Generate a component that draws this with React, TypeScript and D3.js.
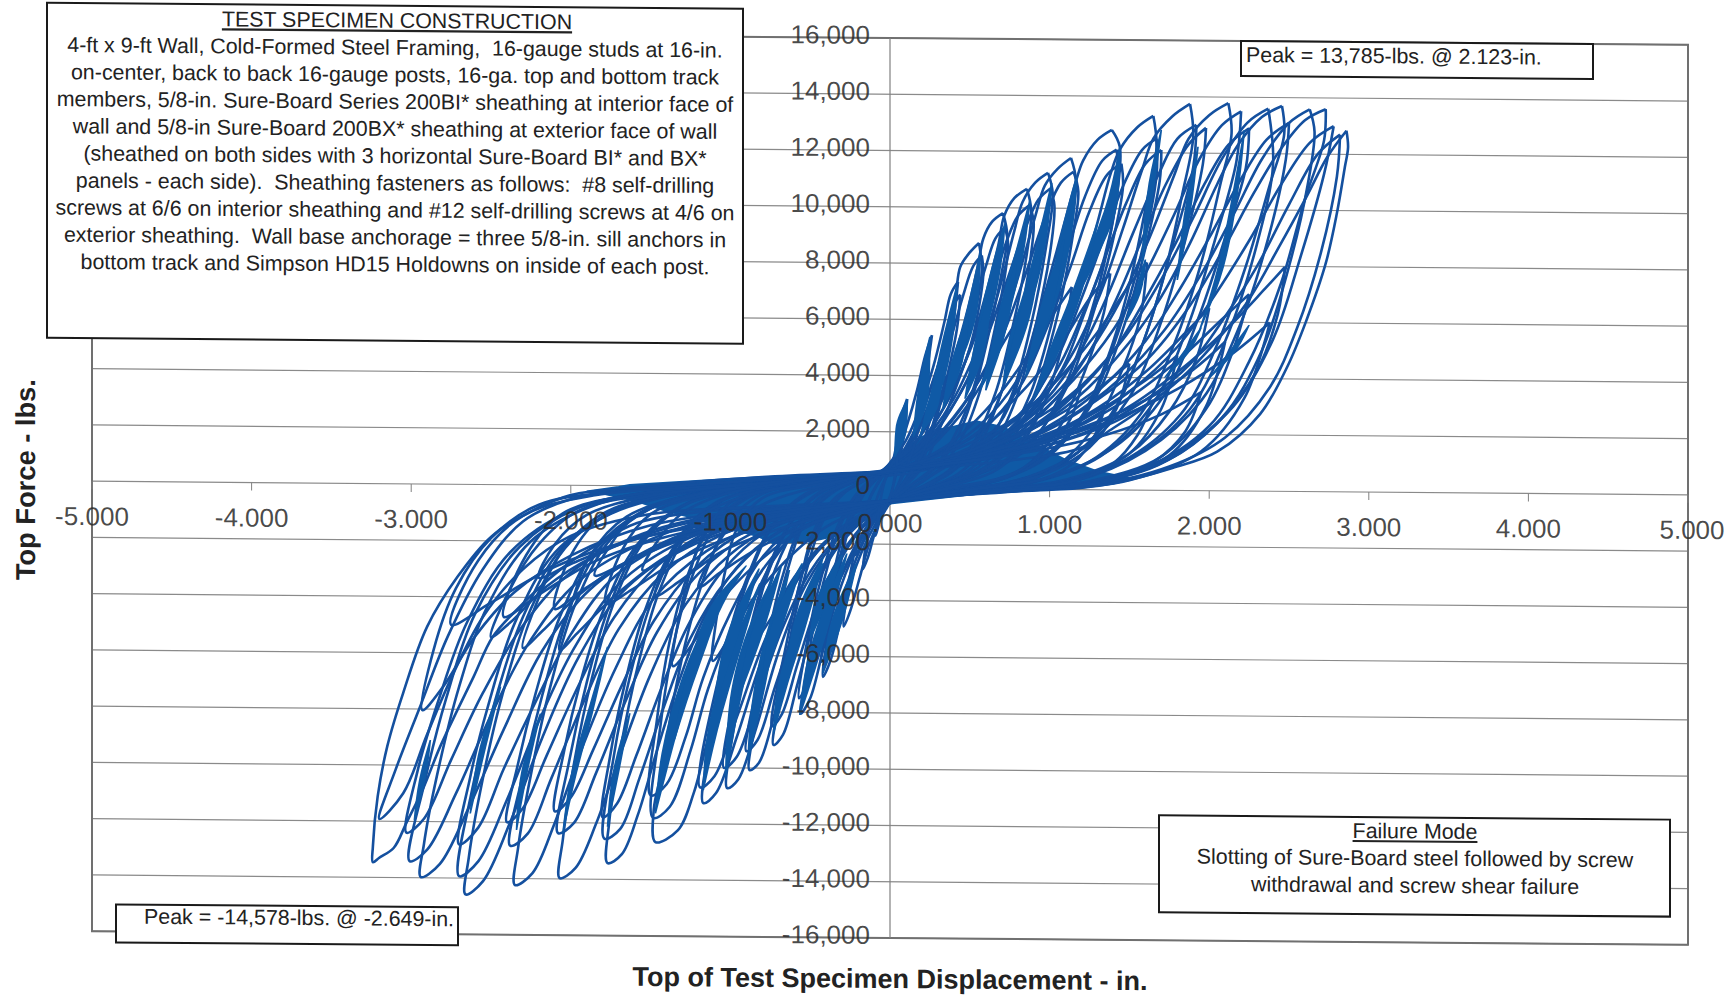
import { useEffect, useRef } from 'react'
import * as d3 from 'd3'

type Pt = [number, number] // displacement (in), force (lbs)

const xTicks = [-5, -4, -3, -2, -1, 0, 1, 2, 3, 4, 5]
const yTicks = [16000, 14000, 12000, 10000, 8000, 6000, 4000, 2000, 0, -2000, -4000, -6000, -8000, -10000, -12000, -14000, -16000]

const specimenTitle = 'TEST SPECIMEN CONSTRUCTION'
const specimenLines = [
  '4-ft x 9-ft Wall, Cold-Formed Steel Framing,  16-gauge studs at 16-in.',
  'on-center, back to back 16-gauge posts, 16-ga. top and bottom track',
  'members, 5/8-in. Sure-Board Series 200BI* sheathing at interior face of',
  'wall and 5/8-in Sure-Board 200BX* sheathing at exterior face of wall',
  '(sheathed on both sides with 3 horizontal Sure-Board BI* and BX*',
  'panels - each side).  Sheathing fasteners as follows:  #8 self-drilling',
  'screws at 6/6 on interior sheathing and #12 self-drilling screws at 4/6 on',
  'exterior sheathing.  Wall base anchorage = three 5/8-in. sill anchors in',
  'bottom track and Simpson HD15 Holdowns on inside of each post.',
]
const failureLines = ['Slotting of Sure-Board steel followed by screw', 'withdrawal and screw shear failure']

// primary and repeat cycles, one list per displacement level
const level01: Pt[][] = [
  [[.107,3170],[.08,2700],[.05,1800],[.02,1000],[0,650],[-.05,100],[-.1,-700],[-.14,-1700],[-.17,-2900],[-.14,-2500],[-.1,-1700],[-.05,-900],[0,-300],[.03,300],[.06,1000],[.09,2000],[.107,3170]],
]
const level02: Pt[][] = [
  [[.263,5450],[.22,4700],[.17,3500],[.11,2300],[.05,1300],[0,850],[-.06,300],[-.12,-300],[-.18,-1200],[-.23,-2500],[-.27,-3800],[-.29,-4940],[-.25,-4400],[-.19,-3200],[-.13,-2000],[-.06,-1100],[0,-500],[.05,100],[.1,900],[.16,2200],[.22,3800],[.263,5450]],
]
const level03: Pt[][] = [
  [[.426,7350],[.38,6900],[.34,5900],[.27,4300],[.19,2900],[.1,1700],[0,900],[-.08,350],[-.16,-200],[-.25,-1300],[-.32,-3000],[-.38,-4900],[-.42,-6735],[-.37,-6100],[-.3,-4500],[-.22,-2900],[-.13,-1700],[-.05,-900],[0,-500],[.07,100],[.15,800],[.24,2200],[.33,4300],[.4,6100],[.426,7350]],
  [[.44,6900],[.39,6400],[.34,5100],[.27,3800],[.19,2500],[.1,1400],[0,800],[-.1,250],[-.18,-300],[-.27,-1500],[-.34,-3200],[-.4,-5000],[-.43,-6200],[-.38,-5700],[-.3,-4000],[-.21,-2500],[-.12,-1400],[0,-450],[.08,100],[.17,700],[.26,1900],[.35,3800],[.42,5700],[.44,6900]],
]
const level04: Pt[][] = [
  [[.558,8740],[.5,8400],[.44,7880],[.41,6810],[.33,4920],[.25,3500],[.17,2180],[.06,1100],[0,850],[-.1,350],[-.2,-200],[-.3,-1200],[-.4,-3000],[-.48,-5000],[-.53,-6800],[-.56,-8050],[-.5,-7500],[-.42,-5800],[-.33,-3900],[-.23,-2400],[-.12,-1300],[0,-500],[.1,200],[.2,900],[.29,2680],[.39,3860],[.48,5280],[.545,6600],[.575,7770],[.558,8740]],
  [[.575,8300],[.52,7900],[.46,6900],[.38,5300],[.29,3700],[.19,2300],[.08,1250],[0,800],[-.12,300],[-.22,-300],[-.33,-1400],[-.43,-3200],[-.51,-5200],[-.57,-7500],[-.52,-7000],[-.43,-5300],[-.33,-3500],[-.22,-2100],[-.1,-1100],[0,-450],[.1,100],[.21,800],[.31,2100],[.42,3700],[.51,5200],[.57,6900],[.585,7700],[.575,8300]],
]
const level05: Pt[][] = [
  [[.708,9810],[.64,9500],[.585,8900],[.55,7900],[.47,6000],[.37,4100],[.25,2500],[.12,1300],[0,800],[-.13,350],[-.28,-150],[-.42,-1200],[-.53,-3100],[-.62,-5200],[-.69,-7500],[-.73,-9170],[-.67,-8800],[-.58,-7000],[-.47,-4700],[-.34,-2900],[-.2,-1600],[0,-500],[.13,100],[.28,700],[.42,1800],[.53,3500],[.63,5800],[.7,7700],[.735,9000],[.708,9810]],
  [[.72,9300],[.66,8900],[.6,7900],[.51,6200],[.4,4300],[.28,2700],[.13,1400],[0,750],[-.15,300],[-.3,-250],[-.45,-1400],[-.56,-3300],[-.65,-5600],[-.74,-8500],[-.68,-8100],[-.58,-6300],[-.46,-4200],[-.33,-2600],[-.18,-1400],[0,-450],[.15,50],[.3,650],[.44,1700],[.56,3400],[.65,5500],[.72,7600],[.74,8700],[.72,9300]],
]
const level06: Pt[][] = [
  [[.858,10680],[.78,10350],[.715,9700],[.68,8700],[.59,6700],[.47,4500],[.33,2800],[.16,1400],[0,750],[-.18,300],[-.35,-150],[-.52,-1100],[-.65,-3100],[-.75,-5500],[-.83,-8000],[-.88,-10070],[-.82,-9800],[-.72,-8000],[-.6,-5500],[-.45,-3300],[-.27,-1700],[0,-500],[.18,0],[.36,600],[.52,1600],[.66,3400],[.77,5800],[.85,8100],[.885,9900],[.858,10680]],
  [[.875,10100],[.8,9700],[.73,8800],[.63,7000],[.5,4900],[.35,3000],[.17,1500],[0,700],[-.2,250],[-.38,-200],[-.55,-1300],[-.68,-3300],[-.78,-5800],[-.9,-9400],[-.83,-9000],[-.72,-7100],[-.58,-4800],[-.43,-2900],[-.25,-1500],[0,-450],[.2,0],[.38,550],[.55,1500],[.69,3300],[.8,5700],[.88,8200],[.9,9500],[.875,10100]],
]
const level07: Pt[][] = [
  [[.99,11250],[.91,10900],[.83,10200],[.78,9200],[.68,7000],[.55,4700],[.38,2800],[.2,1400],[0,700],[-.2,300],[-.42,-150],[-.6,-1100],[-.76,-3000],[-.88,-5500],[-.97,-8300],[-1.02,-10720],[-.95,-10400],[-.84,-8600],[-.7,-5900],[-.53,-3500],[-.32,-1800],[0,-500],[.2,-50],[.42,500],[.6,1500],[.76,3300],[.89,6000],[.98,8700],[1.02,10500],[.99,11250]],
  [[1.005,10700],[.93,10300],[.85,9300],[.72,7200],[.58,5000],[.4,3000],[.2,1500],[0,700],[-.23,250],[-.45,-200],[-.63,-1300],[-.79,-3300],[-.91,-5900],[-1.04,-10000],[-.96,-9600],[-.84,-7700],[-.68,-5100],[-.5,-3000],[-.3,-1600],[0,-450],[.22,-50],[.44,450],[.63,1400],[.79,3200],[.92,6000],[1.01,8700],[1.03,10100],[1.005,10700]],
]
const level08: Pt[][] = [
  [[1.134,11790],[1.05,11400],[.97,10800],[.91,9700],[.79,7300],[.64,4800],[.44,2800],[.22,1400],[0,650],[-.23,300],[-.48,-150],[-.7,-1100],[-.87,-3000],[-1.01,-5700],[-1.11,-8600],[-1.17,-11260],[-1.09,-10900],[-.96,-8900],[-.8,-6100],[-.6,-3500],[-.36,-1700],[0,-500],[.22,-50],[.48,500],[.7,1500],[.88,3400],[1.03,6300],[1.13,9100],[1.165,11000],[1.134,11790]],
  [[1.15,11300],[1.07,10900],[.98,9800],[.84,7500],[.67,5000],[.46,3000],[.23,1500],[0,650],[-.26,250],[-.52,-200],[-.73,-1300],[-.9,-3300],[-1.04,-6000],[-1.19,-10700],[-1.1,-10300],[-.96,-8200],[-.78,-5400],[-.58,-3200],[-.33,-1600],[0,-450],[.24,-50],[.5,450],[.72,1400],[.9,3300],[1.05,6200],[1.15,9200],[1.18,10600],[1.15,11300]],
]
const level09: Pt[][] = [
  [[1.39,12800],[1.3,12440],[1.21,11700],[1.17,11060],[1.11,9840],[1.02,7970],[.92,5960],[.81,3900],[.69,2360],[.46,1130],[.14,550],[0,450],[-.4,250],[-.8,-250],[-1,-1200],[-1.15,-3000],[-1.27,-5300],[-1.36,-7710],[-1.43,-10100],[-1.48,-11500],[-1.47,-12660],[-1.33,-12240],[-1.23,-10910],[-1.13,-8770],[-.98,-6270],[-.86,-4130],[-.73,-2600],[-.545,-1400],[-.27,-900],[0,-550],[.14,0],[.36,800],[.63,1600],[.86,2660],[1.07,4500],[1.21,6280],[1.32,7820],[1.41,10030],[1.44,12200],[1.39,12800]],
  [[1.42,12100],[1.33,11700],[1.22,10400],[1.1,8300],[.96,6000],[.8,3900],[.55,2200],[.25,1100],[0,600],[-.4,250],[-.8,-150],[-1.07,-1200],[-1.22,-2900],[-1.34,-5200],[-1.44,-8600],[-1.485,-11800],[-1.38,-11400],[-1.25,-9400],[-1.14,-7200],[-.98,-4900],[-.78,-2800],[-.5,-1300],[-.2,-750],[0,-450],[.25,0],[.55,500],[.85,1400],[1.08,3500],[1.25,6100],[1.36,8500],[1.43,11000],[1.42,12100]],
  [[1.45,11600],[1.36,11200],[1.25,9900],[1.13,7900],[.98,5700],[.82,3700],[.58,2100],[.3,1200],[0,600],[-.45,200],[-.85,-200],[-1.12,-1400],[-1.27,-3200],[-1.38,-5500],[-1.46,-8300],[-1.5,-11000],[-1.4,-10600],[-1.28,-8900],[-1.17,-6800],[-1,-4500],[-.8,-2500],[-.55,-1250],[-.2,-700],[0,-450],[.3,50],[.6,650],[.9,1800],[1.13,3900],[1.28,6400],[1.39,8700],[1.46,10800],[1.45,11600]],
]
const level10: Pt[][] = [
  [[1.65,13310],[1.55,12900],[1.44,12100],[1.38,11200],[1.3,9500],[1.19,7300],[1.06,5100],[.9,3200],[.68,1800],[.35,1000],[0,550],[-.35,350],[-.7,50],[-1.05,-500],[-1.27,-1700],[-1.45,-3800],[-1.58,-6400],[-1.69,-9400],[-1.76,-12000],[-1.77,-13420],[-1.68,-13100],[-1.58,-11700],[-1.46,-9400],[-1.32,-6900],[-1.15,-4500],[-.9,-2500],[-.6,-1300],[-.3,-800],[0,-500],[.3,-150],[.65,300],[.95,1100],[1.2,2600],[1.37,4800],[1.5,7300],[1.6,10000],[1.67,12200],[1.65,13310]],
  [[1.67,12500],[1.58,12100],[1.46,10800],[1.33,8800],[1.2,6800],[1.05,4700],[.85,2900],[.55,1500],[.25,900],[0,550],[-.35,300],[-.75,0],[-1.1,-600],[-1.32,-2000],[-1.5,-4200],[-1.63,-6800],[-1.73,-9600],[-1.79,-12550],[-1.69,-12200],[-1.57,-10400],[-1.42,-7900],[-1.25,-5400],[-1.02,-3300],[-.7,-1600],[-.3,-750],[0,-450],[.35,-100],[.7,350],[1,1200],[1.25,3000],[1.43,5600],[1.57,8300],[1.67,11200],[1.67,12500]],
  [[1.7,12100],[1.6,11600],[1.48,10200],[1.35,8300],[1.22,6300],[1.08,4300],[.88,2700],[.6,1500],[.3,900],[0,550],[-.4,250],[-.8,-50],[-1.15,-800],[-1.37,-2300],[-1.54,-4500],[-1.66,-7000],[-1.75,-9500],[-1.8,-11800],[-1.71,-11300],[-1.59,-9600],[-1.44,-7300],[-1.27,-5000],[-1.05,-3000],[-.75,-1500],[-.35,-750],[0,-450],[.4,-50],[.75,450],[1.05,1500],[1.3,3400],[1.47,5900],[1.6,8600],[1.69,11000],[1.7,12100]],
]
const level11: Pt[][] = [
  [[1.88,13745],[1.77,13300],[1.65,12500],[1.58,11400],[1.46,9300],[1.32,7000],[1.15,4900],[.95,3200],[.7,1900],[.35,1000],[0,550],[-.4,300],[-.85,0],[-1.25,-550],[-1.52,-1800],[-1.72,-4000],[-1.87,-6900],[-1.98,-9900],[-2.05,-12600],[-2.07,-13970],[-1.97,-13600],[-1.84,-12000],[-1.68,-9400],[-1.5,-6700],[-1.28,-4200],[-1,-2400],[-.65,-1200],[-.3,-750],[0,-500],[.35,-150],[.75,250],[1.1,1000],[1.38,2600],[1.57,5000],[1.72,7700],[1.83,10500],[1.9,12600],[1.88,13745]],
  [[1.92,13000],[1.8,12500],[1.68,11200],[1.52,9100],[1.37,7000],[1.2,5000],[.98,3200],[.7,1800],[.35,1000],[0,550],[-.45,250],[-.9,-50],[-1.3,-700],[-1.56,-2000],[-1.76,-4300],[-1.9,-7000],[-2.01,-9800],[-2.08,-12370],[-1.98,-12000],[-1.84,-10200],[-1.66,-7700],[-1.46,-5200],[-1.2,-3100],[-.85,-1600],[-.4,-800],[0,-450],[.4,-100],[.8,300],[1.15,1200],[1.42,3000],[1.62,5800],[1.77,8700],[1.9,11500],[1.92,13000]],
  [[1.98,12900],[1.87,12300],[1.73,10900],[1.57,8800],[1.42,6800],[1.25,4900],[1.02,3100],[.75,1800],[.4,1000],[0,550],[-.5,200],[-.95,-100],[-1.35,-850],[-1.6,-2200],[-1.8,-4500],[-1.94,-7000],[-2.04,-9400],[-2.1,-11600],[-2,-11100],[-1.86,-9400],[-1.68,-7100],[-1.48,-4800],[-1.22,-2900],[-.88,-1500],[-.45,-800],[0,-450],[.45,-50],[.85,400],[1.22,1500],[1.5,3300],[1.7,6000],[1.85,8900],[1.96,11600],[1.98,12900]],
]
const level12: Pt[][] = [
  [[2.12,13785],[2,13350],[1.87,12500],[1.78,11200],[1.62,8900],[1.45,6800],[1.25,4900],[1.02,3300],[.72,1900],[.35,1000],[0,550],[-.5,250],[-1,-50],[-1.45,-650],[-1.75,-1900],[-1.97,-4200],[-2.13,-7200],[-2.25,-10300],[-2.33,-12900],[-2.35,-14230],[-2.24,-13800],[-2.1,-12000],[-1.92,-9200],[-1.72,-6500],[-1.48,-4000],[-1.15,-2300],[-.75,-1200],[-.35,-750],[0,-500],[.4,-150],[.85,200],[1.25,1000],[1.57,2700],[1.78,5200],[1.95,8100],[2.07,10900],[2.14,12700],[2.12,13785]],
  [[2.2,13500],[2.08,13000],[1.94,11800],[1.78,9800],[1.6,7700],[1.4,5700],[1.15,3900],[.85,2300],[.45,1200],[0,550],[-.55,200],[-1.05,-100],[-1.5,-800],[-1.8,-2100],[-2.02,-4500],[-2.18,-7500],[-2.3,-10300],[-2.38,-12830],[-2.27,-12400],[-2.12,-10400],[-1.92,-7700],[-1.7,-5100],[-1.42,-3100],[-1.05,-1700],[-.55,-850],[0,-450],[.45,-100],[.9,250],[1.32,1200],[1.65,3100],[1.87,5900],[2.03,8800],[2.17,11700],[2.2,13500]],
  [[2.25,12900],[2.12,12300],[1.97,10900],[1.8,8900],[1.62,7000],[1.42,5100],[1.18,3500],[.88,2100],[.5,1200],[0,550],[-.6,150],[-1.1,-150],[-1.55,-900],[-1.85,-2300],[-2.07,-4700],[-2.22,-7400],[-2.33,-9900],[-2.4,-12000],[-2.3,-11500],[-2.15,-9600],[-1.95,-7100],[-1.73,-4700],[-1.45,-2800],[-1.1,-1500],[-.6,-800],[0,-450],[.5,-50],[.95,350],[1.4,1500],[1.72,3400],[1.93,6100],[2.1,9000],[2.23,11500],[2.25,12900]],
]
const level13: Pt[][] = [
  [[2.456,13700],[2.33,13300],[2.18,12300],[2.05,10900],[1.88,8800],[1.68,6700],[1.45,4900],[1.18,3300],[.85,2000],[.4,1100],[0,600],[-.6,200],[-1.15,-100],[-1.65,-700],[-2,-2000],[-2.25,-4400],[-2.43,-7500],[-2.56,-10700],[-2.64,-13300],[-2.66,-14578],[-2.55,-14100],[-2.38,-12000],[-2.18,-9000],[-1.95,-6100],[-1.68,-3800],[-1.3,-2200],[-.85,-1200],[-.4,-750],[0,-500],[.45,-150],[1,200],[1.45,1000],[1.82,2700],[2.05,5200],[2.23,8000],[2.38,10900],[2.47,12700],[2.456,13700]],
  [[2.37,13600],[2.24,13100],[2.08,11800],[1.9,9700],[1.7,7500],[1.48,5500],[1.2,3700],[.88,2200],[.45,1200],[0,550],[-.6,150],[-1.2,-150],[-1.7,-850],[-2.05,-2200],[-2.3,-4700],[-2.48,-7800],[-2.62,-10900],[-2.7,-13930],[-2.58,-13400],[-2.4,-11200],[-2.2,-8400],[-1.98,-5800],[-1.7,-3500],[-1.3,-1950],[-.8,-1000],[0,-450],[.5,-100],[1.05,200],[1.5,1100],[1.88,2900],[2.12,5600],[2.3,8800],[2.4,11600],[2.37,13600]],
  [[2.5,13100],[2.36,12500],[2.2,11100],[2.02,9200],[1.82,7200],[1.6,5300],[1.32,3600],[.98,2200],[.55,1200],[0,550],[-.65,100],[-1.25,-200],[-1.75,-1000],[-2.1,-2400],[-2.35,-4900],[-2.52,-7900],[-2.63,-10400],[-2.7,-12800],[-2.58,-12200],[-2.42,-10100],[-2.22,-7700],[-2,-5300],[-1.72,-3200],[-1.3,-1800],[-.8,-950],[0,-450],[.55,-50],[1.15,300],[1.6,1400],[1.95,3200],[2.2,6000],[2.37,9000],[2.48,11800],[2.5,13100]],
]
const level14: Pt[][] = [
  [[2.73,13600],[2.6,13200],[2.44,12100],[2.28,10600],[2.08,8500],[1.87,6500],[1.62,4700],[1.3,3200],[.95,2000],[.45,1100],[0,600],[-.7,200],[-1.35,-100],[-1.85,-700],[-2.25,-2000],[-2.52,-4300],[-2.7,-7200],[-2.84,-10400],[-2.92,-12800],[-2.94,-13975],[-2.82,-13500],[-2.64,-11500],[-2.42,-8700],[-2.18,-5900],[-1.88,-3700],[-1.45,-2100],[-.95,-1100],[-.45,-700],[0,-500],[.5,-150],[1.1,150],[1.6,800],[2,2300],[2.25,4600],[2.45,7400],[2.6,10400],[2.72,12500],[2.73,13600]],
  [[2.63,13590],[2.5,13100],[2.33,11800],[2.15,9800],[1.95,7700],[1.72,5700],[1.45,4000],[1.1,2500],[.7,1500],[0,600],[-.75,150],[-1.4,-150],[-1.95,-800],[-2.32,-2200],[-2.6,-4600],[-2.78,-7600],[-2.92,-10700],[-3.01,-13410],[-2.9,-13000],[-2.72,-11000],[-2.5,-8200],[-2.25,-5500],[-1.95,-3400],[-1.5,-1900],[-1,-1000],[0,-450],[.55,-100],[1.15,150],[1.68,900],[2.08,2600],[2.33,5000],[2.5,8000],[2.62,11000],[2.66,12800],[2.63,13590]],
  [[2.78,13000],[2.63,12400],[2.45,10900],[2.25,8900],[2.04,7000],[1.8,5100],[1.5,3500],[1.15,2200],[.7,1300],[0,550],[-.8,100],[-1.5,-200],[-2,-900],[-2.38,-2400],[-2.65,-4900],[-2.83,-7700],[-2.96,-10200],[-3.03,-12400],[-2.92,-11900],[-2.75,-9800],[-2.55,-7400],[-2.3,-5000],[-2,-3100],[-1.55,-1700],[-1,-950],[0,-450],[.6,-50],[1.25,250],[1.75,1200],[2.15,3000],[2.4,5400],[2.57,8300],[2.72,11300],[2.78,13000]],
]
const level15: Pt[][] = [
  [[2.86,12840],[2.74,11900],[2.61,10490],[2.44,8720],[2.24,6730],[2.02,5160],[1.82,3970],[1.61,3010],[1.4,2200],[1.19,1470],[.8,1050],[.4,800],[0,600],[-.8,350],[-1.585,-40],[-2,-350],[-2.27,-1000],[-2.5,-1860],[-2.71,-3290],[-2.9,-5070],[-3.05,-7430],[-3.15,-9340],[-3.21,-11120],[-3.24,-12900],[-3.24,-13460],[-3.2,-13300],[-3.11,-12950],[-3.03,-12050],[-2.93,-10890],[-2.82,-9350],[-2.71,-8020],[-2.61,-6850],[-2.49,-5420],[-2.34,-4450],[-2.07,-3020],[-1.86,-2190],[-1.585,-1320],[-1,-800],[-.5,-650],[0,-500],[.59,-150],[1.19,57],[1.4,240],[1.77,800],[2.05,1390],[2.32,2750],[2.49,4440],[2.61,6100],[2.73,8115],[2.8,9900],[2.85,11550],[2.87,12250],[2.86,12840]],
  [[2.82,12700],[2.68,12000],[2.5,10200],[2.3,8000],[2.1,6200],[1.88,4500],[1.6,3200],[1.25,2100],[.8,1300],[0,550],[-.8,250],[-1.55,-100],[-2,-500],[-2.3,-1300],[-2.55,-3000],[-2.77,-5400],[-2.95,-8000],[-3.1,-10200],[-3.2,-11920],[-3.05,-11000],[-2.9,-8900],[-2.75,-6900],[-2.55,-4700],[-2.3,-3000],[-2,-1800],[-1.5,-1000],[-.8,-700],[0,-450],[.6,-100],[1.25,150],[1.75,850],[2.1,1900],[2.38,3700],[2.55,5800],[2.7,8500],[2.8,11200],[2.82,12700]],
]
// trailing cycles with the lower inner tips
const trailing: Pt[][] = [
  [[2.475,7980],[2.35,7200],[2.1,5700],[1.8,4200],[1.45,2800],[1,1700],[.5,1000],[0,550],[-.9,200],[-1.7,-200],[-2.2,-700],[-2.5,-1900],[-2.72,-3700],[-2.86,-5900],[-2.93,-8040],[-2.8,-7200],[-2.6,-5400],[-2.35,-3800],[-2,-2500],[-1.5,-1400],[-.8,-800],[0,-450],[.7,-100],[1.3,250],[1.75,1100],[2.05,2400],[2.3,4300],[2.43,6300],[2.475,7980]],
  [[1.61,8100],[1.5,7300],[1.3,5600],[1.05,3900],[.75,2300],[.4,1200],[0,550],[-.8,150],[-1.5,-300],[-1.95,-900],[-2.2,-2100],[-2.38,-3700],[-2.5,-5420],[-2.38,-4900],[-2.15,-3600],[-1.85,-2500],[-1.4,-1500],[-.8,-850],[0,-450],[.5,-50],[.95,500],[1.25,2000],[1.45,4200],[1.57,6200],[1.61,8100]],
  [[1.38,7700],[1.25,6800],[1.05,5000],[.8,3300],[.5,1800],[.2,950],[0,600],[-.7,150],[-1.4,-300],[-1.8,-1000],[-2.05,-2300],[-2.2,-4000],[-2.3,-5800],[-2.18,-5200],[-1.95,-3900],[-1.65,-2700],[-1.2,-1500],[-.6,-800],[0,-450],[.4,0],[.8,600],[1.05,2100],[1.22,4200],[1.34,6300],[1.38,7700]],
  [[1.14,7200],[1.02,6200],[.82,4400],[.6,2800],[.35,1500],[0,600],[-.6,150],[-1.2,-250],[-1.65,-1100],[-1.88,-2500],[-2,-4300],[-2.07,-5860],[-1.95,-5200],[-1.72,-3900],[-1.4,-2500],[-1,-1400],[-.5,-750],[0,-450],[.35,50],[.7,800],[.92,2500],[1.06,4700],[1.14,7200]],
  [[2,6500],[1.85,5600],[1.6,4200],[1.3,2900],[.9,1700],[.45,1000],[0,550],[-.5,100],[-.95,-400],[-1.15,-1500],[-1.26,-3200],[-1.33,-4900],[-1.36,-6400],[-1.25,-5700],[-1.08,-4200],[-.85,-2800],[-.55,-1500],[-.25,-800],[0,-450],[.55,-50],[1.1,350],[1.5,1300],[1.75,2800],[1.92,4700],[2,6500]],
  [[2.25,7000],[2.08,6100],[1.8,4600],[1.45,3100],[1,1800],[.5,1000],[0,550],[-.45,100],[-.8,-400],[-.96,-1500],[-1.04,-3200],[-1.09,-4800],[-1.11,-6200],[-1.02,-5500],[-.86,-4000],[-.65,-2600],[-.4,-1400],[-.15,-750],[0,-450],[.65,-50],[1.25,300],[1.7,1200],[1.98,2900],[2.15,5000],[2.25,7000]],
  [[.8,6000],[.7,5100],[.55,3500],[.38,2200],[.2,1200],[0,650],[-.25,200],[-.45,-400],[-.62,-1700],[-.75,-3400],[-.85,-5500],[-.76,-4800],[-.6,-3200],[-.42,-2000],[-.2,-1000],[0,-450],[.22,100],[.42,800],[.6,2200],[.73,4000],[.8,6000]],
  [[.6,5500],[.52,4600],[.4,3200],[.26,2000],[.12,1100],[0,700],[-.18,200],[-.35,-400],[-.48,-1600],[-.56,-3300],[-.62,-5000],[-.55,-4300],[-.43,-2900],[-.28,-1800],[-.12,-900],[0,-450],[.15,200],[.3,900],[.44,2300],[.54,3900],[.6,5500]],
  [[.35,4000],[.28,3300],[.2,2300],[.1,1300],[0,800],[-.12,200],[-.22,-500],[-.31,-2000],[-.37,-3800],[-.3,-3100],[-.2,-1900],[-.1,-1000],[0,-450],[.1,300],[.2,1200],[.29,2600],[.35,4000]],
  [[.2,2600],[.14,1900],[.07,1200],[0,750],[-.08,150],[-.15,-700],[-.22,-2400],[-.16,-1800],[-.08,-900],[0,-400],[.07,300],[.14,1300],[.2,2600]],
  [[.06,1800],[.03,1100],[0,700],[-.04,100],[-.09,-1700],[-.05,-900],[0,-350],[.03,400],[.06,1800]],
]
// low amplitude cycles that make up the fan under the big loops
const lowCycles: Pt[][] = [
  [[1.5,4500],[1.35,3800],[1.1,2800],[.8,1900],[.45,1150],[0,600],[-.6,200],[-1.15,-300],[-1.5,-1000],[-1.68,-2300],[-1.78,-4200],[-1.62,-3700],[-1.35,-2700],[-1,-1800],[-.5,-1000],[0,-450],[.5,0],[.95,500],[1.25,1500],[1.42,2900],[1.5,4500]],
  [[1.8,4800],[1.6,3900],[1.3,2800],[.95,1900],[.5,1150],[0,550],[-.75,150],[-1.4,-300],[-1.8,-1100],[-2,-2500],[-2.1,-4400],[-1.92,-3700],[-1.6,-2600],[-1.2,-1700],[-.6,-950],[0,-450],[.6,-50],[1.15,350],[1.5,1300],[1.7,2900],[1.8,4800]],
  [[2.1,5300],[1.9,4300],[1.6,3200],[1.2,2200],[.7,1350],[0,550],[-.9,100],[-1.6,-300],[-2.05,-1000],[-2.28,-2500],[-2.42,-4700],[-2.2,-3900],[-1.85,-2700],[-1.4,-1800],[-.7,-1000],[0,-450],[.75,-50],[1.35,350],[1.75,1250],[1.98,3000],[2.1,5300]],
  [[2.38,6000],[2.15,4900],[1.8,3600],[1.4,2500],[.85,1500],[0,550],[-1,50],[-1.85,-350],[-2.3,-1100],[-2.58,-2700],[-2.75,-5000],[-2.5,-4200],[-2.1,-2900],[-1.6,-1900],[-.8,-1050],[0,-450],[.85,-50],[1.5,350],[1.95,1400],[2.22,3300],[2.38,6000]],
  [[1.2,3700],[1.05,3000],[.82,2200],[.5,1350],[0,650],[-.5,150],[-.95,-400],[-1.25,-1300],[-1.38,-2500],[-1.47,-3900],[-1.3,-3300],[-1.05,-2300],[-.7,-1500],[-.3,-850],[0,-450],[.4,50],[.75,500],[1,1500],[1.13,2500],[1.2,3700]],
  [[.95,3300],[.8,2600],[.6,1900],[.3,1150],[0,650],[-.4,100],[-.75,-500],[-1,-1400],[-1.12,-2500],[-1.2,-3600],[-1.05,-3000],[-.8,-2100],[-.5,-1300],[-.2,-800],[0,-450],[.3,100],[.55,600],[.78,1500],[.9,2400],[.95,3300]],
  [[1.35,3000],[1.15,2300],[.9,1650],[.55,1150],[0,650],[-.7,150],[-1.25,-350],[-1.6,-1100],[-1.75,-2100],[-1.85,-3200],[-1.68,-2800],[-1.4,-2000],[-1,-1350],[-.5,-850],[0,-450],[.55,0],[.95,350],[1.15,950],[1.28,1900],[1.35,3000]],
  [[1.65,3200],[1.4,2400],[1.1,1750],[.7,1200],[0,600],[-.85,100],[-1.5,-350],[-1.9,-1050],[-2.1,-2100],[-2.2,-3300],[-2,-2800],[-1.65,-2000],[-1.15,-1300],[-.6,-800],[0,-450],[.65,-50],[1.15,300],[1.4,950],[1.55,1950],[1.65,3200]],
  [[1.95,3500],[1.7,2700],[1.35,1950],[.85,1300],[0,600],[-.6,200],[-1.05,-300],[-1.3,-950],[-1.45,-1900],[-1.55,-3000],[-1.38,-2500],[-1.12,-1800],[-.75,-1200],[-.35,-750],[0,-450],[.75,-50],[1.35,300],[1.65,1000],[1.85,2100],[1.95,3500]],
]
// stacks of repeat cycles that print as solid wedges below each tip
const wedgesInner: Pt[][] = [
  [[.109,3160],[.07,2100],[.03,1110]],
  [[.25,5390],[.21,3490],[.146,1830]],
  [[.418,7180],[.365,5400],[.29,3500],[.188,1835]],
  [[.564,8370],[.522,6590],[.46,5170],[.355,3500]],
  [[.72,9450],[.658,7670],[.585,5880],[.5,4100]],
  [[.877,10280],[.815,8500],[.73,6600],[.647,4700],[.564,3510]],
  [[1.013,10890],[.96,9100],[.877,7080],[.773,5300],[.71,3750]],
  [[1.17,11130],[1.117,9460],[1.02,6850],[.92,4950]],
  [[1.44,12200],[1.4,10420],[1.27,8290],[1.15,6610]],
  [[.33,4300],[.27,3000],[.2,2000]],
  [[.49,6200],[.42,4500],[.33,2800]],
  [[.63,7000],[.56,5000],[.47,3200]],
  [[.79,8000],[.7,5800],[.6,3500]],
  [[.94,8500],[.84,6100],[.72,3800]],
  [[1.09,8900],[.97,6300],[.85,4000]],
  [[1.3,9500],[1.17,7000],[1.02,4800],[.9,3200]],
  [[-.42,-6610],[-.33,-4710],[-.21,-2690]],
  [[-.565,-8100],[-.5,-6500],[-.376,-4120],[-.27,-2340]],
  [[-.73,-8760],[-.67,-6980],[-.565,-5080],[-.42,-2700]],
  [[-.89,-9715],[-.835,-7700],[-.75,-5320],[-.63,-2950]],
  [[-1.03,-10310],[-.98,-7940],[-.86,-5090],[-.73,-3190]],
  [[-1.17,-10800],[-1.11,-8660],[-.98,-6045],[-.815,-3430]],
  [[-1.47,-11640],[-1.4,-9500],[-1.27,-6770],[-1.13,-4510]],
  [[-.5,-5400],[-.42,-3900],[-.3,-2400]],
  [[-.65,-6500],[-.55,-4500],[-.42,-2500]],
  [[-.8,-7000],[-.7,-4800],[-.55,-2700]],
  [[-.95,-7500],[-.82,-5000],[-.68,-2800]],
  [[-1.1,-7800],[-.97,-5000],[-.82,-2900]],
  [[-1.35,-9000],[-1.22,-6300],[-1.05,-3900],[-.9,-2800]],
]
const wedgesOuter: Pt[][] = [
  [[1.7,12810],[1.64,10910],[1.58,8065]],
  [[1.93,12230],[1.86,9740],[1.8,7480]],
  [[2.22,12840],[2.16,10470],[2.05,7500],[1.94,5710]],
  [[1.6,8200],[1.55,7000],[1.48,6000]],
  [[1.95,5800],[1.85,4880],[1.72,4000]],
  [[2.25,5900],[2.15,5000],[2,4000]],
  [[-1.77,-12130],[-1.71,-9990],[-1.63,-8090]],
  [[-2.05,-12380],[-1.98,-10240],[-1.88,-8100],[-1.77,-5730]],
  [[-2.34,-12270],[-2.3,-10500],[-2.19,-8120]],
  [[-2.63,-11700],[-2.55,-9320],[-2.44,-7180]],
  [[-2.98,-11950],[-2.93,-10500],[-2.88,-9100]],
]
// the solid band around the origin where every cycle overlaps
const coreOutline: Pt[] = [[0,850],[.06,1250],[.19,1800],[.31,2100],[.4,2200],[.54,2400],[.71,2200],[.84,1800],[1.1,1050],[1.3,650],[1.5,420],[1.4,240],[1.19,57],[.59,-150],[0,-550],[-.17,-1200],[-.33,-1700],[-.48,-1900],[-.73,-2000],[-.83,-1750],[-1,-1500],[-1.21,-1150],[-1.42,-850],[-1.585,-550],[-1.8,-280],[-1.9,-220],[-1.7,-50],[-1.63,30],[-.8,350],[0,530]]

const allCycles = [level01, level02, level03, level04, level05, level06, level07, level08, level09, level10, level11, level12, level13, level14, level15, trailing, lowCycles].flat()

const W = 1729
const H = 995
const SKEW = 0.0085 // the scan runs slightly downhill to the right
const FONT = "'Liberation Sans', Arial, sans-serif"
const CURVE = '#14509f'
const SOLID = '#0f5aa6'

export default function App() {
  const svgRef = useRef<SVGSVGElement | null>(null)

  useEffect(() => {
    if (!svgRef.current) return
    const svg = d3.select(svgRef.current)
    svg.selectAll('*').remove()

    const x = d3.scaleLinear().domain([-5, 5]).range([92, 1688])
    const y = d3.scaleLinear().domain([16000, -16000]).range([38, 938])

    const root = svg
      .append('g')
      .attr('transform', `matrix(1 ${SKEW} 0 1 0 ${-SKEW * x(0)})`)
      .attr('font-family', FONT)

    // grid
    root.append('g')
      .selectAll('line')
      .data(yTicks)
      .join('line')
      .attr('x1', x(-5))
      .attr('x2', x(5))
      .attr('y1', (d) => y(d))
      .attr('y2', (d) => y(d))
      .attr('stroke', '#8a8a8a')
      .attr('stroke-width', 1.2)

    // frame + axes
    root.append('rect')
      .attr('x', x(-5))
      .attr('y', y(16000))
      .attr('width', x(5) - x(-5))
      .attr('height', y(-16000) - y(16000))
      .attr('fill', 'none')
      .attr('stroke', '#707070')
      .attr('stroke-width', 2)
    root.append('line')
      .attr('x1', x(0))
      .attr('x2', x(0))
      .attr('y1', y(16000))
      .attr('y2', y(-16000))
      .attr('stroke', '#808080')
      .attr('stroke-width', 1.2)
    root.append('g')
      .selectAll('line')
      .data(xTicks)
      .join('line')
      .attr('x1', (d) => x(d))
      .attr('x2', (d) => x(d))
      .attr('y1', y(0))
      .attr('y2', y(0) + 8)
      .attr('stroke', '#808080')

    // hysteresis loops
    const line = d3
      .line<Pt>()
      .x((d) => x(d[0]))
      .y((d) => y(d[1]))
      .curve(d3.curveCatmullRom.alpha(0.5))
    const curves = root.append('g')
    curves.append('path')
      .attr('d', d3.line<Pt>().x((d) => x(d[0])).y((d) => y(d[1])).curve(d3.curveLinearClosed)(coreOutline))
      .attr('fill', SOLID)
      .attr('stroke', SOLID)
      .attr('stroke-width', 2)
    curves.append('g')
      .attr('fill', 'none')
      .attr('stroke', CURVE)
      .attr('stroke-width', 2.6)
      .attr('stroke-linejoin', 'round')
      .selectAll('path')
      .data(allCycles)
      .join('path')
      .attr('d', (d) => line(d))

    // wedges swell in the middle and close off at both ends
    const wedge = (halfWidth: number, pts: Pt[]) => {
      const w = (i: number) => 0.8 + halfWidth * Math.sin((Math.PI * i) / (pts.length - 1))
      return d3
        .area<Pt>()
        .x0((d, i) => x(d[0]) - w(i))
        .x1((d, i) => x(d[0]) + w(i))
        .y((d) => y(d[1]))
        .curve(d3.curveMonotoneY)(pts)
    }
    const wedgeLayer = curves.append('g').attr('fill', SOLID)
    wedgeLayer.selectAll('path.inner')
      .data(wedgesInner)
      .join('path')
      .attr('class', 'inner')
      .attr('d', (d) => wedge(5, d))
    wedgeLayer.selectAll('path.outer')
      .data(wedgesOuter)
      .join('path')
      .attr('class', 'outer')
      .attr('d', (d) => wedge(2.5, d))

    // tick labels sit on top of the curve
    root.append('g')
      .attr('font-size', 26)
      .attr('fill', '#2a2a2a')
      .attr('fill-opacity', 0.85)
      .attr('text-anchor', 'middle')
      .selectAll('text')
      .data(xTicks)
      .join('text')
      .attr('x', (d) => x(d) + (d === 5 ? 4 : 0))
      .attr('y', y(0) + 44)
      .text((d) => d3.format('.3f')(d).replace('−', '-'))
    root.append('g')
      .attr('font-size', 26)
      .attr('fill', '#2a2a2a')
      .attr('fill-opacity', 0.85)
      .attr('text-anchor', 'end')
      .selectAll('text')
      .data(yTicks)
      .join('text')
      .attr('x', x(0) - 20)
      .attr('y', (d) => y(d) + 6)
      .text((d) => d3.format(',')(d).replace('−', '-'))

    // axis titles
    root.append('text')
      .attr('x', x(0))
      .attr('y', 988)
      .attr('text-anchor', 'middle')
      .attr('font-size', 27)
      .attr('font-weight', 700)
      .attr('fill', '#222')
      .text('Top of Test Specimen Displacement - in.')
    root.append('text')
      .attr('transform', 'translate(35,487) rotate(-90)')
      .attr('text-anchor', 'middle')
      .attr('font-size', 27.3)
      .attr('font-weight', 700)
      .attr('fill', '#222')
      .text('Top Force - lbs.')

    const box = (x0: number, y0: number, x1: number, y1: number) =>
      root.append('rect')
        .attr('x', x0)
        .attr('y', y0)
        .attr('width', x1 - x0)
        .attr('height', y1 - y0)
        .attr('fill', '#fff')
        .attr('stroke', '#1a1a1a')
        .attr('stroke-width', 2)
    const label = (str: string, tx: number, ty: number, anchor = 'middle', underline = false) =>
      root.append('text')
        .attr('x', tx)
        .attr('y', ty)
        .attr('text-anchor', anchor)
        .attr('font-size', 21.4)
        .attr('fill', '#222')
        .style('white-space', 'pre')
        .style('text-decoration', underline ? 'underline' : 'none')
        .text(str)

    box(47, 10, 743, 345)
    label(specimenTitle, 397, 32, 'middle', true)
    specimenLines.forEach((s, i) => label(s, 395, 59 + i * 27.1))

    box(1241, 38, 1593, 73)
    label('Peak = 13,785-lbs. @ 2.123-in.', 1246, 59, 'start')

    box(116, 911, 458, 949)
    label('Peak = -14,578-lbs. @ -2.649-in.', 144, 930, 'start')

    box(1159, 813, 1670, 910)
    label('Failure Mode', 1415, 834, 'middle', true)
    failureLines.forEach((s, i) => label(s, 1415, 861 + i * 27.3))
  }, [])

  return (
    <svg
      ref={svgRef}
      width={W}
      height={H}
      style={{ position: 'absolute', left: 0, top: 0, background: '#fff' }}
    />
  )
}
